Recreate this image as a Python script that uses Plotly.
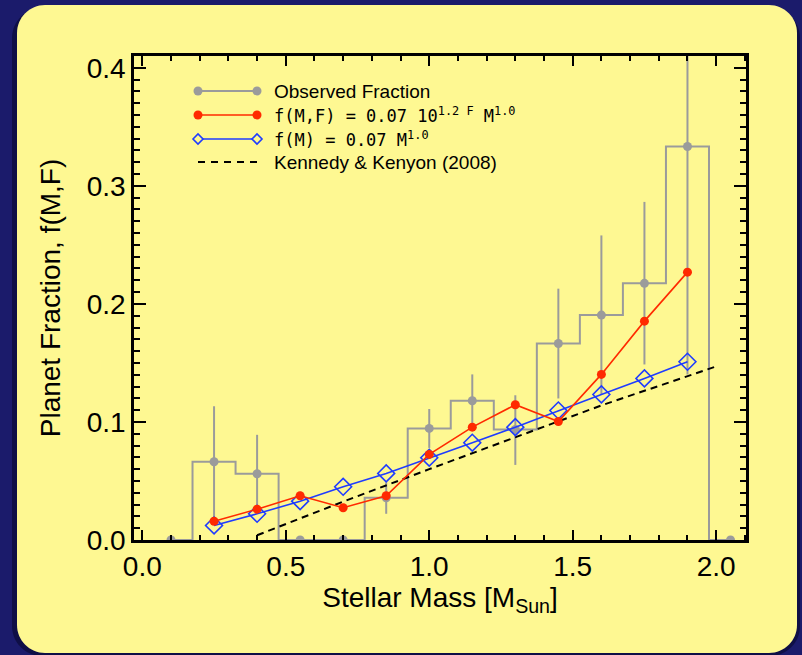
import plotly.graph_objects as go

# ---- data -------------------------------------------------------------
# observed planet fraction in stellar-mass bins (bin centres, width 0.15)
mass_bins = [0.10, 0.25, 0.40, 0.55, 0.70, 0.85, 1.00, 1.15, 1.30, 1.45, 1.60, 1.75, 1.90, 2.05]
obs_frac = [0.0, 0.0663, 0.0561, 0.0, 0.0, 0.0358, 0.0945, 0.1180, 0.0936, 0.1665, 0.1905, 0.2174, 0.3333, 0.0]
obs_err_hi = [0.0, 0.047, 0.033, 0.0, 0.0, 0.013, 0.0165, 0.0223, 0.029, 0.0464, 0.0675, 0.069, 0.193, 0.0]
obs_err_lo = [0.0, 0.047, 0.033, 0.0, 0.0, 0.0136, 0.0165, 0.0223, 0.030, 0.0466, 0.0675, 0.0687, 0.193, 0.0]

# model predictions at the bin centres
model_mass = [0.25, 0.40, 0.55, 0.70, 0.85, 1.00, 1.15, 1.30, 1.45, 1.60, 1.75, 1.90]
frac_mf = [0.0159, 0.0261, 0.0375, 0.0273, 0.0375, 0.0725, 0.0956, 0.1146, 0.1004, 0.1403, 0.1854, 0.2269]
frac_m = [0.0123, 0.0222, 0.0329, 0.0451, 0.0564, 0.0697, 0.0824, 0.0956, 0.1097, 0.1233, 0.1369, 0.1510]

# Kennedy & Kenyon (2008) relation
kk_mass = [0.40, 0.70, 1.00, 1.30, 1.60, 2.00]
kk_frac = [0.004, 0.0325, 0.060, 0.087, 0.114, 0.147]

legend_labels = [
    "Observed Fraction",
    "f(M,F) = 0.07 10<sup>1.2 F</sup> M<sup>1.0</sup>",
    "f(M) = 0.07 M<sup>1.0</sup>",
    "Kennedy & Kenyon (2008)",
]

x_ticks = [0.0, 0.5, 1.0, 1.5, 2.0]
y_ticks = [0.0, 0.1, 0.2, 0.3, 0.4]

# ---- styling ----------------------------------------------------------
W, H = 802, 655
L, R, T, B = 134, 56, 56, 115
GRAY = "#9b9b9b"
RED = "#ff2a00"
BLUE = "#1f3cff"
YELLOW = "#fef892"
NAVY = "#1b1b6b"
FONT = "Liberation Sans"


def px(xp):
    return (xp - L) / (W - L - R)


def py(yp):
    return (H - B - yp) / (H - T - B)


fig = go.Figure()

# histogram outline
fig.add_trace(go.Scatter(
    x=mass_bins, y=obs_frac, mode="lines", line=dict(color=GRAY, width=2, shape="hvh"),
    hoverinfo="skip", showlegend=False,
))
# observed points with error bars
fig.add_trace(go.Scatter(
    x=mass_bins, y=obs_frac, mode="markers",
    marker=dict(color=GRAY, size=9, symbol="circle"),
    error_y=dict(type="data", array=obs_err_hi, arrayminus=obs_err_lo,
                 color=GRAY, thickness=2, width=0),
    showlegend=False,
))
# Kennedy & Kenyon relation
fig.add_trace(go.Scatter(
    x=kk_mass, y=kk_frac, mode="lines",
    line=dict(color="black", width=2, dash="7px,5px"), showlegend=False,
))
# f(M)
fig.add_trace(go.Scatter(
    x=model_mass, y=frac_m, mode="lines+markers",
    line=dict(color=BLUE, width=1.6),
    marker=dict(symbol="diamond-open", size=13, color=BLUE, line=dict(width=1.6)),
    showlegend=False,
))
# f(M,F)
fig.add_trace(go.Scatter(
    x=model_mass, y=frac_mf, mode="lines+markers",
    line=dict(color=RED, width=1.6),
    marker=dict(symbol="circle", size=9, color=RED),
    showlegend=False,
))

shapes = []


# rounded yellow panel on the navy page
def rounded_rect(x0, y0, x1, y1, r):
    k = 0.5523 * r
    pts = [
        f"M {px(x0 + r)},{py(y0)}",
        f"L {px(x1 - r)},{py(y0)}",
        f"C {px(x1 - r + k)},{py(y0)} {px(x1)},{py(y0 + r - k)} {px(x1)},{py(y0 + r)}",
        f"L {px(x1)},{py(y1 - r)}",
        f"C {px(x1)},{py(y1 - r + k)} {px(x1 - r + k)},{py(y1)} {px(x1 - r)},{py(y1)}",
        f"L {px(x0 + r)},{py(y1)}",
        f"C {px(x0 + r - k)},{py(y1)} {px(x0)},{py(y1 - r + k)} {px(x0)},{py(y1 - r)}",
        f"L {px(x0)},{py(y0 + r)}",
        f"C {px(x0)},{py(y0 + r - k)} {px(x0 + r - k)},{py(y0)} {px(x0 + r)},{py(y0)}",
        "Z",
    ]
    return " ".join(pts)


shapes.append(dict(type="path", xref="paper", yref="paper", layer="below",
                   path=rounded_rect(12, 8, 800, 656, 30),
                   fillcolor="rgba(5,5,40,0.55)", line=dict(width=0)))
shapes.append(dict(type="path", xref="paper", yref="paper", layer="below",
                   path=rounded_rect(17, 5, 797, 653, 28),
                   fillcolor=YELLOW, line=dict(width=0)))

# legend
leg_rows = [91, 115, 139, 162]
lx0, lx1, ltext = 198, 257, 272
leg_styles = [
    dict(color=GRAY, width=2, dash="solid"),
    dict(color=RED, width=1.6, dash="solid"),
    dict(color=BLUE, width=1.6, dash="solid"),
    dict(color="black", width=2, dash="7px,6px"),
]
for row, st in zip(leg_rows, leg_styles):
    shapes.append(dict(type="line", xref="paper", yref="paper",
                       x0=px(lx0), x1=px(lx1), y0=py(row), y1=py(row), line=st))

for i, col in enumerate([GRAY, RED]):
    for xe in (lx0, lx1):
        shapes.append(dict(type="circle", xref="paper", yref="paper",
                           xsizemode="pixel", ysizemode="pixel",
                           xanchor=px(xe), yanchor=py(leg_rows[i]),
                           x0=-4.5, x1=4.5, y0=-4.5, y1=4.5,
                           fillcolor=col, line=dict(width=0)))
for xe in (lx0, lx1):
    shapes.append(dict(type="path", xref="paper", yref="paper",
                       xsizemode="pixel", ysizemode="pixel",
                       xanchor=px(xe), yanchor=py(leg_rows[2]),
                       path="M -5,0 L 0,5 L 5,0 L 0,-5 Z",
                       fillcolor=YELLOW, line=dict(color=BLUE, width=1.6)))

annotations = []
leg_fonts = [
    dict(family=FONT, size=19, color="black"),
    dict(family="DejaVu Sans Mono", size=17, color="black"),
    dict(family="DejaVu Sans Mono", size=17, color="black"),
    dict(family=FONT, size=19, color="black"),
]
for row, lab, fnt in zip(leg_rows, legend_labels, leg_fonts):
    annotations.append(dict(xref="paper", yref="paper", x=px(ltext), y=py(row),
                            xanchor="left", yanchor="middle", text=lab,
                            showarrow=False, font=fnt))

axis_common = dict(
    showline=True, linewidth=2.5, linecolor="black", mirror="ticks",
    ticks="inside", tickwidth=2, tickcolor="black",
    showgrid=False, zeroline=False,
    tickfont=dict(family=FONT, size=28, color="black"),
)

fig.update_layout(
    width=W, height=H,
    margin=dict(l=L, r=R, t=T, b=B),
    paper_bgcolor=NAVY, plot_bgcolor=YELLOW,
    showlegend=False,
    shapes=shapes, annotations=annotations,
    xaxis=dict(
        range=[-0.029, 2.104], tickvals=x_ticks,
        ticktext=[f"{v:.1f}" for v in x_ticks], ticklen=10,
        minor=dict(dtick=0.1, tick0=0, ticks="inside", ticklen=5, tickwidth=1.5, tickcolor="black"),
        title=dict(text="Stellar Mass [M<sub>Sun</sub>]",
                   font=dict(family=FONT, size=28, color="black"), standoff=6),
        **axis_common,
    ),
    yaxis=dict(
        range=[0, 0.41], tickvals=y_ticks,
        ticktext=[f"{v:.1f}" for v in y_ticks], ticklen=12,
        minor=dict(dtick=0.01, tick0=0, ticks="inside", ticklen=6, tickwidth=1.5, tickcolor="black"),
        title=dict(text="Planet Fraction, f(M,F)",
                   font=dict(family=FONT, size=28, color="black"), standoff=18),
        **axis_common,
    ),
)

fig.write_html("out.html")
